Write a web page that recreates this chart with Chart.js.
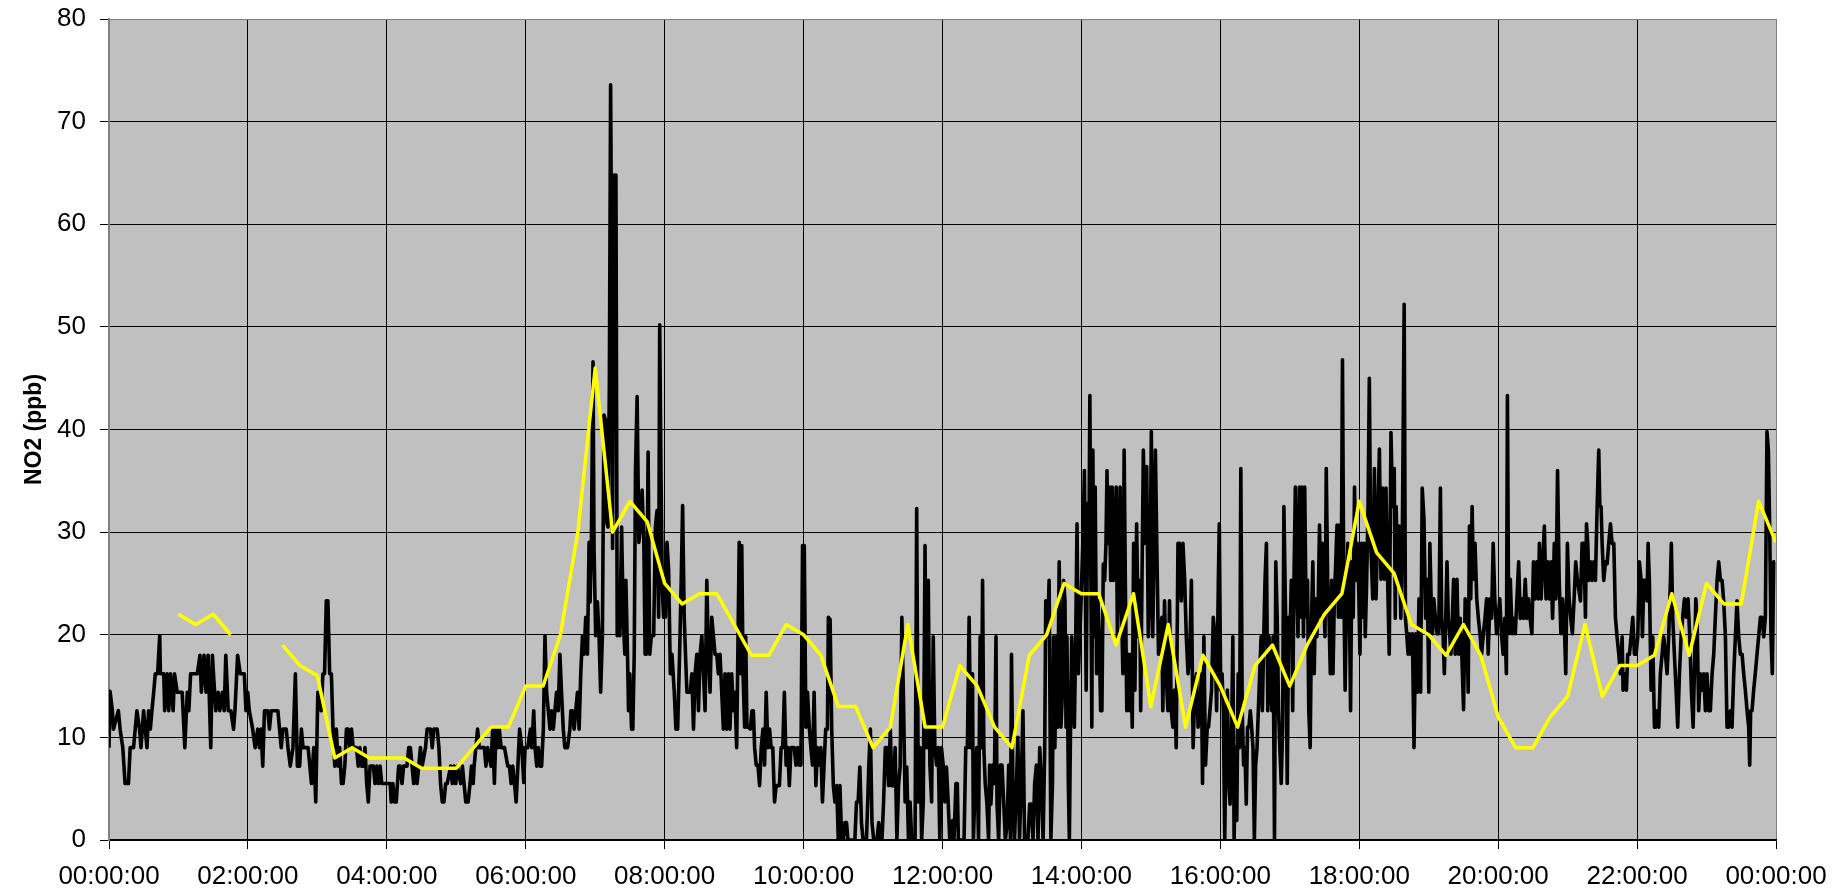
<!DOCTYPE html>
<html>
<head>
<meta charset="utf-8">
<script src="https://cdn.jsdelivr.net/npm/chart.js@4.4.1/dist/chart.umd.min.js"></script>
<style>
  html, body { margin: 0; padding: 0; background: #ffffff; }
  #c { display: block; }
</style>
</head>
<body>
<canvas id="c" width="1836" height="893"></canvas>
<script>
// Minutes after midnight of the 1-minute-ish NO2 record (black line)
const no2Minutes = [
0,0.9,2.9,3.8,8.1,9.6,11.9,13.9,16.8,18.3,21.2,24.1,26.4,27.6,29.9,32.8,34.2,35.7,37.1,38.6,40,42,43.8,44.4,47.3,48.1,50.2,51.6,53.1,55.4,56.6,58.9,63.2,65.5,67.6,69,70.5,76.3,78.6,79.8,82.1,83.8,85.6,87.9,89.3,92.2,94.3,95.7,98,99.5,100.9,103,105.3,107.6,108.8,111.1,113.4,116.9,118.3,119.8,121.2,124.1,126.2,128.5,129.9,131.4,132.8,134.3,137.2,138.6,140.1,145.9,147.3,148.8,150.2,153.1,154.6,156.6,158.9,161,162.7,164.7,166.2,167.6,172,174.9,176.9,178.6,180.4,
183.3,184.8,186.2,187.7,189.1,190.6,192.1,193.5,195,196.4,197.9,199.3,200.8,202.2,203.7,205.1,206.6,208,209.5,210.9,213.8,215.3,216.7,218.2,219.6,221.1,222.6,224,225.5,228.4,229.8,231.3,232.7,234.2,235.6,240,242.9,243.8,245.2,246.7,248.1,250.2,251.6,253.1,254.5,257.4,258.9,260.3,261.8,263.2,264.7,266.1,267.6,269,270.5,273.4,274.8,277.7,279.2,280.6,283.5,285,286.4,287.9,289.3,290.8,292.2,295.1,296.6,298,299.5,300.9,303.8,305.3,306.7,308.2,310.2,311.9,313.1,314.6,315.4,316.9,318.4,319.8,321.3,324.2,325.6,327.1,330,331.4,332.9,334.3,335.8,337.2,338.7,341.6,344.5,345.9,347.4,348.8,350.3,351.7,353.2,354.7,
356.6,358.3,359.4,361.7,364,365.2,366.9,368,369.5,370.9,372.3,373.7,375.2,376.6,378,379.5,380.9,382.3,383.8,385.2,386.6,388.1,389.5,390.9,392.4,393.8,396.1,398.1,399,400.4,401.8,403.2,404.7,406.1,407.5,409,410.4,411.8,413.3,414.7,415.6,416.7,418.1,419,420.4,421.9,423.3,424.7,426.2,427.6,429,429.9,431,432.2,433.3,434.2,435,436.2,437.3,437.9,439,439.9,441.3,442.8,444.2,445.6,446.5,447.9,448.8,449.9,451.4,452.5,453.7,454.8,456.2,457.7,459.1,460.5,462,463.1,464.2,465.7,467.1,468.5,470.5,472,473.4,474.8,475.7,476.9,478,479.1,480.6,482,483.4,484.9,486.3,488.3,489.7,491.2,492.9,494.3,495.5,496.9,498,499.2,500.6,502.1,503.5,504.9,506.3,507.8,509.2,510.6,512.1,513.5,514.9,516.4,517.8,519.2,520.7,522.1,523.5,525,526.4,527.8,529.3,530.7,532.1,533.6,535,536.4,537.9,539.3,540.7,542.2,543.6,544.4,
545.7,546.6,547.7,549.1,550,551.1,552.6,554,555.4,556.6,557.7,559.1,560.6,562,563.4,564.9,566.3,567.7,569.1,570.6,572,573.4,574.9,576.3,577.7,579.1,580.6,582,583.4,584.9,586.3,587.7,589.1,590.6,592,593.4,594.9,596.3,597.7,599.1,600.6,602,603.4,604.9,606.3,607.7,609.1,610.6,612,613.4,614.9,616.3,617.7,619.1,620.6,621.4,622.9,624.3,625.7,627.1,628.6,630,631.4,632.9,634.3,635.7,637.1,638.3,639.7,641.1,642.9,644.3,645.7,647.1,648.6,650,651.4,652.9,654.3,655.4,656.3,657.7,659.1,660.6,662,663.4,664.9,666.3,667.7,669.1,670.6,672,673.4,674.9,676.3,677.7,679.1,680.6,682,683.4,684.9,686.3,687.7,689.1,690.6,692,693.4,694.9,696.3,697.7,699.1,700.6,702,703.4,704.9,706.3,707.7,709.1,710.6,712,713.4,714.9,716.3,717.7,719.1,720.6,722,723.4,724.9,726.3,
727.8,728.7,729.9,731.6,732.8,733.7,735.1,736.6,738.6,740.1,741.5,743,744.4,745.9,746.7,748.2,749.6,751.1,752.5,753.7,754.6,755.7,756.9,758.4,759.8,760.7,761.8,763.3,764.8,766.2,767.1,768.5,770,771.4,772.9,774.3,775.8,777.2,778.7,779.6,781,782.2,783.9,785.1,786.5,788,789.5,790.9,792.4,793.8,795.3,796.7,798.2,799.6,801.1,802.5,804,805.4,806.9,808.3,809.2,810.7,812.1,813.6,815,815.9,817.1,818.2,819.4,820.8,822.3,823.7,824.6,825.8,826.7,827.5,828.7,829.6,830.4,831.6,832.8,833.9,835.1,836.2,837.4,838.6,839.7,841.2,842.6,844.1,845.5,846.4,847.3,848.2,849,849.9,850.8,851.9,853.1,854.3,855.4,856.6,857.7,858.9,860.1,861.2,862.1,863,864.1,865.3,866.5,867.6,868.8,870,871.1,872.3,873.4,874.6,875.8,876.9,878.1,879.2,880.4,881.6,882.7,883.9,885.1,886.2,887.7,889.1,890.3,891.2,892,893.5,894.9,896.4,897.8,899.3,900.4,901.6,902.8,903.9,905.1,906.6,908,909.5,
910.3,911.8,913.2,914.7,916.1,917.6,919,920.5,921.9,923.4,924.8,926.3,927.7,929.2,930.6,932.1,933.6,935,936.5,937.9,939.4,940.8,942.3,943.7,944.6,945.8,947.2,948.7,949.8,951,952.4,953.9,955.4,956.8,958.3,959.1,960.3,961.5,962.6,963.8,965,966.1,967.3,968.4,969.6,970.8,971.9,973.1,974.2,975.4,976.6,977.7,978.9,980.1,981.2,982.4,983.5,984.7,985.9,987,988.2,989.4,990.5,991.7,992.8,994,995.2,996.3,997.5,998.6,999.8,1001,1002.1,1003.3,1004.5,1005.6,1006.8,1007.9,1009.1,1010.3,1011.4,1012.6,1013.8,1014.9,1016.4,1017.8,1019,1020.2,1021.3,1022.5,1023.6,1024.8,1026,1027.1,1028.3,1029.5,1030.6,1031.8,1032.9,1034.1,1035.3,1036.4,1037.6,1038.8,1039.9,1041.1,1042.2,1043.4,1044.6,1045.7,1046.9,1048.1,1049.2,1050.4,1051.5,1052.7,1053.9,1055,1056.2,1057.3,1058.5,1059.7,1060.8,1062,1063.2,1064.3,1065.5,1066.6,1067.8,1069,1070.1,1071.3,1072.5,1073.6,1074.8,1075.9,1077.1,1078.3,1079.4,1080.6,1081.8,1082.9,1084.1,1085.2,1086.4,1087.6,1088.7,1089.9,
1091.7,1093.1,1094.5,1096,1097.4,1098.8,1100.2,1101.7,1103.1,1104.5,1105.9,1107.4,1108.8,1110.2,1111.1,1111.9,1113.1,1114.5,1115.9,1117.3,1118.8,1119.9,1121,1122.2,1123.3,1124.5,1125.9,1127.3,1128.7,1130.2,1131.6,1133,1134.4,1135.9,1137.3,1138.7,1140.1,1141,1142.1,1143.3,1144.4,1145.8,1147.3,1148.7,1150.1,1151.2,1152.4,1153.5,1154.7,1155.8,1156.9,1158.1,1159.2,1160.4,1161.5,1162.9,1164.4,1165.8,1167.2,1168.6,1170.1,1171.5,1172.9,1174.1,1175.2,1176.3,1177.5,1178.6,1180,1181.5,1182.9,1184.3,1185.7,1187.2,1188.6,1190,1191.4,1192.9,1194.3,1195.7,1197.1,1198.6,1200,1201.4,1202.8,1204.3,1205.7,1207.1,1208,1209.1,1210.5,1212,1213.4,1214.8,1216.2,1217.7,1219.1,1220.5,1221.9,1223.4,1224.8,1226.2,1227.6,1229.1,1230.5,1231.9,1233.3,1234.8,1235.6,1237.1,1238.5,1239.9,1241.3,1242.8,1244.2,1245.6,1247,1248.5,1249.9,1251.3,1252.7,1254.2,1255.6,1257,1258.4,1259.8,1261.3,1262.7,1264.1,1265.6,1267,1268.4,
1271.1,1272.5,1274,1275.4,1276.3,1277.4,1278.3,1279.7,1281.1,1282.6,1284,1285.5,1286.9,1287.8,1288.9,1289.8,1291.2,1292.7,1294.1,1295.5,1297,1298.4,1299.9,1301.3,1302.7,1304.2,1305.6,1307.1,1307.9,1309.4,1310.8,1311.9,1313.4,1314.8,1316.3,1317.7,1319.1,1320.6,1322,1323.5,1324.6,1325.8,1327.2,1328.6,1329.5,1330.6,1332.1,1333.5,1335,1336.1,1337.3,1338.7,1340.1,1341.6,1343,1344.5,1345.9,1347.3,1348.8,1349.6,1350.8,1352.2,1353.7,1355.1,1356.6,1358,1359.4,1360.9,1362.6,1364,1365.5,1366.9,1368.4,1369.5,1370.7,1371.8,1373.2,1374.7,1376.1,1377.6,1379,1380.4,1381.9,1383.3,1384.8,1386.2,1387.6,1389.1,1390.5,1392,1393.4,1394.8,1396.3,1397.7,1399.1,1400.6,1402,1403.5,1404.9,1406.3,1407.8,1409.2,1410.7,1412.1,1413.5,1415,1416.4,1417.3,1418.1,1419.3,1420.7,1422.1,1423.6,1425,1426.5,1427.9,1429.4,1430.8,1432.2,1433.4,1434.5,1435.7,1436.8,1438,1439.2
];
// NO2 (ppb) of the black line, one per entry of no2Minutes
const no2Ppb = [
9.0,14.5,12.6,10.8,12.6,10.8,9.0,5.5,5.5,9.0,9.0,12.6,10.8,9.0,12.6,9.0,12.6,10.8,12.6,14.4,16.2,16.2,19.9,16.2,16.2,12.6,16.2,12.6,16.2,12.6,16.2,14.4,14.4,9.0,14.4,12.6,16.2,16.2,18.0,14.4,18.0,14.4,18.0,9.0,18.0,12.6,14.4,12.6,14.4,12.6,18.0,12.6,12.6,10.8,12.6,18.0,16.2,16.2,12.6,14.4,12.6,10.8,9.0,10.8,9.0,10.8,7.2,12.6,12.6,10.8,12.6,12.6,10.8,9.0,10.8,10.8,9.0,7.2,9.0,16.2,7.2,7.2,10.8,9.0,9.0,5.5,9.0,3.7,14.4,
12.6,16.2,16.2,23.3,23.3,16.2,16.2,10.8,7.2,10.8,7.2,9.0,5.5,5.5,7.2,10.8,10.8,9.0,10.8,9.0,9.0,7.2,9.0,7.2,7.2,9.0,5.5,3.7,7.2,7.2,5.5,7.2,5.5,7.2,5.5,5.5,5.5,3.7,5.5,3.7,3.7,7.2,7.2,5.5,7.2,7.2,9.0,9.0,7.2,5.5,7.2,5.5,7.2,9.0,7.2,9.0,10.8,10.8,9.0,10.8,10.8,9.0,5.5,3.7,3.7,5.5,5.5,7.2,5.5,7.2,5.5,7.2,5.5,7.2,5.5,3.7,3.7,5.5,7.2,5.5,7.2,9.0,10.8,9.0,9.0,9.0,7.2,9.0,7.2,10.8,5.5,10.8,9.0,10.8,9.0,9.0,7.2,7.2,5.5,7.2,5.5,3.7,7.2,10.8,
9.0,5.6,9.0,9.0,10.8,9.0,12.6,9.0,7.2,9.0,7.2,7.2,10.8,19.9,14.4,12.6,10.8,12.6,10.8,12.6,14.4,12.6,18.1,14.4,10.8,9.0,9.0,10.8,12.6,12.6,10.8,12.6,14.4,10.8,16.2,19.9,18.1,21.7,18.1,29.0,23.2,29.0,46.6,28.4,19.9,23.2,19.9,14.4,19.9,41.4,40.9,31.0,30.5,44.0,73.6,55.9,28.4,64.8,59.6,64.8,19.9,23.5,19.9,30.5,21.7,18.1,25.3,18.1,12.6,16.2,10.8,10.8,18.1,36.0,43.2,29.0,30.5,34.1,29.0,18.1,18.1,37.8,18.1,19.9,19.9,30.5,32.1,21.7,50.2,34.8,24.3,21.7,21.7,29.0,26.4,16.2,18.1,14.4,10.8,10.8,18.1,25.3,32.6,21.7,18.1,14.4,14.4,14.4,16.2,10.8,16.2,18.1,12.6,18.1,19.9,16.2,12.6,25.3,18.1,14.4,21.7,19.9,18.1,18.1,16.2,18.1,14.4,10.8,16.2,10.8,16.2,10.8,16.2,12.6,14.4,9.0,21.7,29.0,
16.2,28.7,16.2,11.0,19.8,11.0,11.0,10.8,12.6,12.6,9.0,7.3,7.3,5.3,9.0,10.8,7.3,14.4,9.0,10.8,9.0,9.0,3.7,5.3,5.3,5.3,9.0,9.0,14.4,7.3,9.0,5.3,9.0,9.0,9.0,7.3,9.0,7.3,7.3,28.7,28.7,11.0,14.4,11.0,9.0,7.3,14.4,5.3,9.0,7.3,9.0,3.7,7.3,10.8,10.8,21.7,21.5,10.8,5.3,3.7,5.3,0,5.3,0,0,1.7,1.7,0,0,0,0,0,3.7,3.7,7.1,1.7,0,0,0,3.7,7.1,10.8,1.7,0,0,0,1.7,0,0,3.7,9.0,9.0,5.3,10.8,5.3,5.3,9.0,0,5.3,7.1,21.7,13.8,3.7,7.1,0,3.7,0,0,0,32.3,3.7,9.0,0,3.7,28.7,9.0,25.3,7.3,3.7,19.8,9.0,7.3,9.0,0,9.0,7.3,3.7,7.1,3.7,0,
0,1.9,0,5.5,5.5,0,0,0,0,9.0,9.0,21.7,9.0,16.2,0,5.5,9.0,0,19.8,9.0,25.3,9.0,5.5,3.5,0,7.3,3.5,7.3,5.5,19.8,3.5,0,7.3,7.3,3.5,0,1.6,7.3,0,18.1,3.5,0,5.5,10.0,0,5.5,12.6,0,0,0,3.5,3.5,0,5.5,7.3,0,9.0,5.5,0,9.0,23.3,19.8,25.3,0,5.5,19.8,9.0,19.8,11.0,27.1,11.0,14.6,25.3,23.3,11.0,19.8,5.5,0,9.0,19.8,16.2,11.0,19.8,30.8,16.2,19.8,23.3,28.9,36.0,14.6,32.8,27.1,43.3,25.3,11.0,38.0,19.8,34.4,16.2,23.3,19.8,12.6,12.6,26.9,25.3,28.9,36.0,28.9,34.4,25.3,34.4,25.3,28.9,34.4,19.8,25.3,34.4,23.3,16.2,38.0,23.3,12.6,18.1,12.6,18.1,11.0,28.9,14.6,30.8,19.8,25.3,12.6,21.7,38.0,28.9,36.4,19.8,25.3,39.8,19.8,28.9,38.0,28.9,18.1,19.8,21.7,
12.6,23.3,16.2,12.6,23.3,12.6,11.0,14.6,9.0,28.9,28.9,23.3,28.9,25.3,19.8,16.2,18.1,25.3,9.0,14.6,16.2,11.0,12.6,16.2,5.5,19.8,7.3,11.0,11.0,12.6,14.6,21.7,19.8,12.6,25.3,30.8,14.6,16.2,12.6,0,11.0,14.6,5.5,3.5,9.0,19.8,0,9.0,1.9,16.2,9.0,36.2,12.6,7.3,9.0,3.5,11.0,11.0,12.6,11.0,9.0,0,7.3,9.0,12.6,16.2,19.8,12.6,19.8,25.3,28.9,12.6,19.8,16.2,12.6,19.8,0,27.1,21.7,12.6,9.0,5.5,11.0,32.5,21.7,5.5,21.7,19.8,25.3,12.6,25.3,34.4,25.3,19.8,34.4,21.7,34.4,19.8,34.4,21.7,25.3,12.6,9.0,21.7,27.1,16.2,23.5,19.8,23.5,30.7,21.7,28.9,25.3,19.8,36.2,25.3,21.7,16.2,25.3,16.2,23.5,27.1,30.7,21.7,30.7,21.7,46.8,25.3,14.6,23.3,28.9,25.3,12.6,27.1,21.7,34.4,25.3,28.9,25.3,18.1,28.9,21.7,28.9,19.8,25.3,32.5,45.0,28.9,
23.5,36.2,23.5,30.6,38.1,25.4,34.3,25.4,34.3,25.4,18.1,39.7,32.5,36.2,21.6,32.5,25.4,30.6,21.6,30.6,52.2,21.6,20.1,18.1,20.1,18.1,20.1,9.0,20.1,14.4,23.5,14.4,34.3,31.3,21.6,25.4,14.4,28.9,23.5,20.1,23.5,21.6,20.1,20.1,34.3,21.6,20.1,16.2,21.6,27.1,21.6,20.1,18.1,21.6,25.4,18.1,25.4,18.1,21.6,18.1,12.7,23.5,21.6,14.4,30.6,23.5,32.5,25.4,28.9,23.5,21.6,20.1,18.1,20.1,21.6,23.5,18.1,23.5,21.6,28.9,23.5,20.1,21.6,23.5,20.1,18.1,21.6,16.2,43.3,20.1,25.4,20.1,21.6,20.1,23.5,27.1,21.6,23.5,21.6,25.4,21.6,23.5,21.6,20.1,27.1,23.5,27.1,23.5,28.9,23.5,27.1,30.6,23.5,27.1,23.5,27.1,21.6,28.9,23.5,36.0,25.4,20.1,23.5,21.6,16.2,28.9,23.5,21.6,20.1,23.5,27.1,25.4,
23.3,28.9,28.9,21.7,30.8,28.9,25.3,27.1,25.3,27.1,25.3,32.5,38.0,32.5,32.5,28.9,25.3,27.1,26.9,28.9,30.8,28.9,28.9,21.7,19.8,18.1,16.2,19.8,14.6,16.2,14.6,18.1,18.1,19.8,21.7,18.1,18.1,19.8,27.1,25.3,19.8,25.3,25.3,23.3,28.9,25.3,14.6,19.8,11.0,11.0,12.6,11.0,16.2,18.1,19.8,18.1,16.2,19.8,25.3,28.9,21.7,18.1,14.6,11.0,16.2,19.8,21.7,23.5,21.7,23.5,19.8,14.6,11.0,16.2,23.5,21.7,12.6,16.2,14.6,16.2,12.6,16.2,12.6,12.6,16.2,18.1,21.7,25.3,27.1,25.3,25.3,23.3,19.8,11.0,11.0,12.6,11.0,16.2,19.8,23.3,19.8,18.1,18.1,16.2,14.6,12.6,11.0,7.3,12.6,12.6,14.6,16.2,18.1,19.8,21.7,21.7,19.8,21.7,39.8,38.0,30.8,19.8,16.2,27.1,27.1
];
// 15-minute averaged series (yellow line); null = no data
const avgMinutes = [
0,15,30,45,60,75,90,105,120,135,150,165,180,195,210,225,240,255,270,285,300,315,330,345,
360,375,390,405,420,435,450,465,480,495,510,525,540,555,570,585,600,615,630,645,660,675,690,705,
720,735,750,765,780,795,810,825,840,855,870,885,900,915,930,945,960,975,990,1005,1020,1035,1050,1065,
1080,1095,1110,1125,1140,1155,1170,1185,1200,1215,1230,1245,1260,1275,1290,1305,1320,1335,1350,1365,1380,1395,1410,1425,1440
];
const avgPpb = [
null,null,null,null,22,21,22,20,null,null,19,17,16,8,9,8,8,8,7,7,7,9,11,11,
15,15,20,30,46,30,33,31,25,23,24,24,21,18,18,21,20,18,13,13,9,11,21,11,
11,17,15,11,9,18,20,25,24,24,19,24,13,21,11,18,15,11,17,19,15,19,22,24,
33,28,26,21,20,18,21,18,12,9,9,12,14,21,14,17,17,18,24,18,25,23,23,33,29
];
// Axis settings
const xTickStepMinutes = 120;
const yTicks = [0,10,20,30,40,50,60,70,80];
const yTitle = 'NO2 (ppb)';

function fmtTime(m) {
  const h = Math.round(m / 60) % 24;
  return (h < 10 ? '0' + h : '' + h) + ':00:00';
}

const plotBg = {
  id: 'plotBg',
  beforeDraw(chart) {
    const { ctx, chartArea } = chart;
    ctx.save();
    ctx.fillStyle = '#C0C0C0';
    ctx.fillRect(chartArea.left, chartArea.top, chartArea.right - chartArea.left, chartArea.bottom - chartArea.top);
    ctx.restore();
  }
};

const FONT = "'Liberation Sans', Arial, sans-serif";

new Chart(document.getElementById('c'), {
  type: 'line',
  data: {
    datasets: [
      {
        label: '15 min',
        data: avgMinutes.map((m, i) => ({ x: m, y: avgPpb[i] })),
        borderColor: '#FFFF00',
        borderWidth: 3.5,
        pointRadius: 0,
        tension: 0,
        spanGaps: false,
        borderJoinStyle: 'round',
        order: 0
      },
      {
        label: 'NO2',
        data: no2Minutes.map((m, i) => ({ x: m, y: no2Ppb[i] })),
        borderColor: '#000000',
        borderWidth: 3.6,
        pointRadius: 0,
        tension: 0,
        borderJoinStyle: 'round',
        order: 1
      }
    ]
  },
  options: {
    responsive: false,
    animation: false,
    events: [],
    layout: { padding: { top: 19, right: 60, left: 0, bottom: 0 } },
    plugins: { legend: { display: false }, tooltip: { enabled: false } },
    scales: {
      x: {
        type: 'linear',
        min: 0,
        max: 1440,
        afterFit(s) { s.height = 53; s.paddingLeft = 0; s.paddingRight = 0; },
        afterBuildTicks(s) {
          const t = [];
          for (let v = 0; v <= 1440; v += xTickStepMinutes) t.push({ value: v });
          s.ticks = t;
        },
        ticks: {
          callback: (v) => fmtTime(v),
          color: '#000',
          font: { family: FONT, size: 26 },
          padding: 12,
          maxRotation: 0,
          autoSkip: false
        },
        grid: {
          color: (c) => (c.tick && c.tick.value === 1440 ? '#808080' : '#000000'),
          lineWidth: 1,
          drawTicks: true,
          tickLength: 9,
          tickColor: '#000000'
        },
        border: { color: '#000000', width: 1.5 }
      },
      y: {
        min: 0,
        max: 80,
        afterFit(s) { s.width = 109; s.paddingTop = 0; s.paddingBottom = 0; },
        afterBuildTicks(s) { s.ticks = yTicks.map(v => ({ value: v })); },
        ticks: {
          color: '#000',
          font: { family: FONT, size: 26 },
          padding: 14
        },
        grid: {
          color: (c) => (c.tick && c.tick.value === 80 ? '#808080' : '#000000'),
          lineWidth: 1,
          drawTicks: true,
          tickLength: 9,
          tickColor: '#000000'
        },
        border: { color: '#808080', width: 2 },
        title: {
          display: true,
          text: yTitle,
          color: '#000',
          font: { family: FONT, size: 23, weight: 'bold' },
          padding: { top: 21, bottom: 0 }
        }
      }
    }
  },
  plugins: [plotBg]
});
</script>
</body>
</html>
